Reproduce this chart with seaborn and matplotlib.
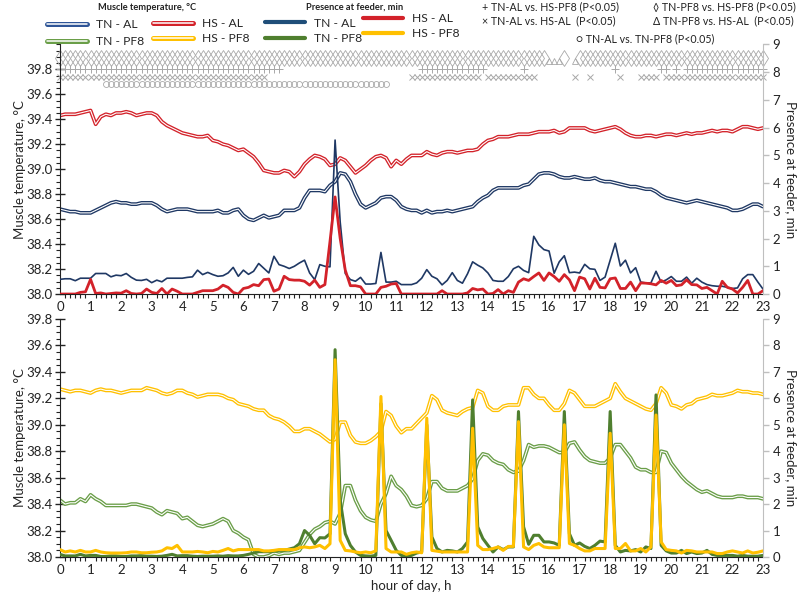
import matplotlib.pyplot as plt
import matplotlib.ticker as mtick
from matplotlib.lines import Line2D
import numpy as np
import seaborn as sns

sns.set_style("white")
plt.rcParams["font.family"] = ["Lato", "DejaVu Sans"]
plt.rcParams["font.size"] = 9

# 10-min readings, 0 h to 23 h (139 points per series)
hour = np.arange(139) / 6

# --- top panel: AL groups ---
temp_tn_al = [
    38.68, 38.67, 38.66, 38.66, 38.65, 38.65,
    38.65, 38.67, 38.69, 38.71, 38.73, 38.74,
    38.73, 38.73, 38.72, 38.72, 38.73, 38.73,
    38.73, 38.71, 38.68, 38.66, 38.67, 38.68,
    38.68, 38.68, 38.67, 38.66, 38.66, 38.66,
    38.66, 38.67, 38.65, 38.65, 38.67, 38.68,
    38.63, 38.60, 38.59, 38.61, 38.63, 38.61,
    38.62, 38.63, 38.67, 38.67, 38.67, 38.69,
    38.77, 38.83, 38.83, 38.83, 38.82, 38.87,
    38.90, 38.97, 38.96, 38.90, 38.80, 38.72,
    38.69, 38.71, 38.73, 38.77, 38.78, 38.78,
    38.75, 38.70, 38.68, 38.67, 38.67, 38.65,
    38.67, 38.65, 38.66, 38.66, 38.67, 38.66,
    38.67, 38.68, 38.69, 38.70, 38.74, 38.77,
    38.79, 38.83, 38.85, 38.85, 38.85, 38.85,
    38.85, 38.87, 38.88, 38.92, 38.96, 38.97,
    38.97, 38.96, 38.94, 38.93, 38.93, 38.94,
    38.93, 38.92, 38.92, 38.93, 38.91, 38.90,
    38.90, 38.89, 38.88, 38.87, 38.86, 38.86,
    38.85, 38.84, 38.84, 38.82, 38.79, 38.77,
    38.76, 38.75, 38.74, 38.73, 38.74, 38.75,
    38.74, 38.73, 38.72, 38.71, 38.70, 38.69,
    38.67, 38.67, 38.68, 38.70, 38.72, 38.72,
    38.70,
]
temp_hs_al = [
    39.43, 39.44, 39.44, 39.44, 39.45, 39.46,
    39.47, 39.36, 39.42, 39.44, 39.43, 39.45,
    39.45, 39.46, 39.45, 39.43, 39.44, 39.45,
    39.45, 39.43, 39.38, 39.35, 39.33, 39.31,
    39.29, 39.28, 39.27, 39.26, 39.26, 39.27,
    39.23, 39.22, 39.20, 39.19, 39.17, 39.15,
    39.16, 39.13, 39.10, 39.05, 38.99, 38.98,
    38.97, 38.97, 38.99, 38.98, 38.94, 38.98,
    39.04, 39.08, 39.11, 39.10, 39.08, 39.03,
    39.04, 39.09, 39.07, 39.02, 38.97, 39.00,
    39.03, 39.07, 39.10, 39.11, 39.09, 39.02,
    39.07, 39.04, 39.08, 39.11, 39.11, 39.11,
    39.14, 39.12, 39.11, 39.13, 39.14, 39.14,
    39.13, 39.14, 39.15, 39.15, 39.16, 39.20,
    39.23, 39.24, 39.26, 39.26, 39.26, 39.27,
    39.28, 39.28, 39.28, 39.29, 39.30, 39.30,
    39.30, 39.31, 39.29, 39.30, 39.33, 39.33,
    39.33, 39.33, 39.31, 39.30, 39.31, 39.32,
    39.33, 39.34, 39.32, 39.29, 39.27, 39.26,
    39.26, 39.27, 39.27, 39.26, 39.27, 39.28,
    39.28, 39.27, 39.28, 39.29, 39.28, 39.29,
    39.29, 39.30, 39.31, 39.30, 39.31, 39.31,
    39.30, 39.32, 39.34, 39.34, 39.33, 39.32,
    39.33,
]
feed_tn_al = [
    0.53, 0.55, 0.55, 0.48, 0.57, 0.57,
    0.57, 0.74, 0.74, 0.74, 0.62, 0.68,
    0.66, 0.74, 0.60, 0.50, 0.49, 0.53,
    0.41, 0.50, 0.44, 0.57, 0.57, 0.57,
    0.57, 0.60, 0.62, 0.86, 0.70, 0.78,
    0.70, 0.64, 0.66, 0.76, 0.96, 0.64,
    0.86, 0.71, 0.82, 1.10, 0.93, 0.76,
    1.36, 1.06, 1.00, 0.92, 1.00, 1.12,
    1.22, 0.76, 0.52, 1.06, 1.00, 0.98,
    5.55, 2.60, 0.74, 0.52, 0.46, 0.60,
    0.36, 0.36, 0.38, 1.50, 0.43, 0.43,
    0.46, 0.34, 0.34, 0.34, 0.40, 0.57,
    0.88, 0.64, 0.55, 0.33, 0.49, 0.77,
    0.49, 0.39, 0.73, 1.16, 1.04, 0.94,
    0.76, 0.49, 0.46, 0.46, 0.63, 0.91,
    1.00, 0.85, 0.77, 2.08, 1.77, 1.60,
    1.55, 0.75, 1.16, 1.38, 0.77, 0.79,
    0.76, 1.07, 0.91, 0.89, 0.49, 0.61,
    1.22, 1.83, 1.01, 1.22, 0.76, 0.95,
    0.43, 0.40, 0.40, 0.82, 0.43, 0.51,
    0.63, 0.46, 0.46, 0.61, 0.39, 0.57,
    0.43, 0.34, 0.30, 0.28, 0.28, 0.24,
    0.20, 0.22, 0.55, 0.70, 0.70, 0.43,
    0.18,
]
feed_hs_al = [
    0.00, 0.00, 0.00, 0.00, 0.06, 0.08,
    0.53, 0.02, 0.04, 0.00, 0.02, 0.04,
    0.03, 0.12, 0.02, 0.00, 0.02, 0.18,
    0.06, 0.02, 0.20, 0.00, 0.18, 0.10,
    0.00, 0.00, 0.00, 0.06, 0.12, 0.12,
    0.12, 0.18, 0.32, 0.24, 0.06, 0.00,
    0.20, 0.24, 0.34, 0.30, 0.52, 0.54,
    0.10, 0.18, 0.64, 0.52, 0.50, 0.50,
    0.46, 0.32, 0.50, 0.24, 0.34, 1.90,
    3.50, 2.00, 0.86, 0.30, 0.30, 0.26,
    0.00, 0.00, 0.00, 0.24, 0.28, 0.36,
    0.38, 0.00, 0.00, 0.00, 0.00, 0.00,
    0.00, 0.00, 0.00, 0.12, 0.00, 0.00,
    0.00, 0.00, 0.04, 0.20, 0.15, 0.18,
    0.00, 0.02, 0.16, 0.00, 0.12, 0.06,
    0.43, 0.55, 0.49, 0.63, 0.76, 0.49,
    0.76, 0.63, 0.46, 0.70, 0.51, 0.12,
    0.61, 0.55, 0.18, 0.57, 0.24, 0.22,
    0.55, 0.58, 0.20, 0.20, 0.43, 0.12,
    0.40, 0.39, 0.37, 0.33, 0.49, 0.39,
    0.49, 0.30, 0.33, 0.51, 0.34, 0.33,
    0.20, 0.24, 0.12, 0.00, 0.46, 0.24,
    0.18, 0.04, 0.24, 0.49, 0.00, 0.00,
    0.12,
]

# --- bottom panel: PF8 groups ---
temp_tn_pf8 = [
    38.43, 38.40, 38.41, 38.41, 38.44, 38.42,
    38.47, 38.44, 38.42, 38.39, 38.39, 38.39,
    38.39, 38.39, 38.40, 38.40, 38.39, 38.38,
    38.37, 38.34, 38.32, 38.35, 38.34, 38.33,
    38.29, 38.30, 38.27, 38.24, 38.23, 38.24,
    38.25, 38.27, 38.29, 38.27, 38.20, 38.18,
    38.15, 38.13, 38.02, 38.00, 38.00, 38.01,
    38.03, 38.02, 38.03, 38.03, 38.04, 38.05,
    38.11, 38.17, 38.21, 38.23, 38.26, 38.27,
    38.25, 38.33, 38.54, 38.54, 38.43, 38.35,
    38.30, 38.28, 38.27, 38.40, 38.48, 38.61,
    38.54, 38.51, 38.46, 38.39, 38.38, 38.39,
    38.44, 38.57, 38.57, 38.52, 38.50, 38.50,
    38.50, 38.52, 38.54, 38.59, 38.73, 38.78,
    38.77, 38.73, 38.71, 38.70, 38.66, 38.64,
    38.65, 38.73, 38.85, 38.83, 38.84, 38.84,
    38.83, 38.81, 38.79, 38.79, 38.86, 38.87,
    38.81, 38.76, 38.73, 38.72, 38.71, 38.71,
    38.75, 38.85, 38.85, 38.80, 38.75, 38.68,
    38.66, 38.66, 38.64, 38.64, 38.80, 38.79,
    38.71, 38.66, 38.61, 38.57, 38.54, 38.51,
    38.49, 38.50, 38.48, 38.46, 38.45, 38.45,
    38.45, 38.46, 38.46, 38.45, 38.45, 38.45,
    38.44,
]
temp_hs_pf8 = [
    39.27, 39.26, 39.25, 39.26, 39.26, 39.25,
    39.24, 39.26, 39.27, 39.26, 39.26, 39.25,
    39.24, 39.25, 39.26, 39.26, 39.26, 39.28,
    39.27, 39.26, 39.24, 39.23, 39.24, 39.26,
    39.26, 39.24, 39.23, 39.21, 39.22, 39.23,
    39.23, 39.23, 39.22, 39.20, 39.19, 39.16,
    39.15, 39.14, 39.12, 39.11, 39.11, 39.07,
    39.05, 39.04, 39.02, 38.99, 38.95, 38.95,
    38.97, 38.97, 38.95, 38.93, 38.90, 38.87,
    38.89, 39.02, 39.02, 38.92, 38.87, 38.86,
    38.86, 38.88, 38.91, 38.95, 39.10, 39.07,
    38.99, 38.94, 38.97, 38.97, 39.01, 39.05,
    39.09, 39.22, 39.19, 39.11, 39.09, 39.08,
    39.07, 39.10, 39.12, 39.13, 39.26, 39.24,
    39.14, 39.11, 39.11, 39.14, 39.15, 39.15,
    39.15, 39.28, 39.28, 39.23, 39.20, 39.20,
    39.15, 39.11, 39.11, 39.16, 39.26, 39.24,
    39.19, 39.14, 39.14, 39.14, 39.16, 39.18,
    39.20, 39.31, 39.25, 39.20, 39.18, 39.16,
    39.14, 39.12, 39.11, 39.16, 39.28, 39.24,
    39.15, 39.14, 39.12, 39.15, 39.16, 39.19,
    39.20, 39.21, 39.23, 39.22, 39.22, 39.23,
    39.24, 39.26, 39.25, 39.25, 39.24, 39.24,
    39.23,
]
feed_tn_pf8 = [
    0.10, 0.04, 0.04, 0.04, 0.10, 0.04,
    0.06, 0.06, 0.02, 0.02, 0.04, 0.04,
    0.02, 0.02, 0.04, 0.04, 0.05, 0.03,
    0.03, 0.02, 0.03, 0.06, 0.10, 0.04,
    0.05, 0.05, 0.03, 0.02, 0.03, 0.03,
    0.03, 0.04, 0.03, 0.05, 0.04, 0.04,
    0.06, 0.10, 0.15, 0.20, 0.20, 0.20,
    0.22, 0.25, 0.25, 0.30, 0.35, 0.50,
    1.00, 0.82, 0.50, 0.73, 0.72, 0.88,
    7.84, 2.15, 0.88, 0.44, 0.19, 0.06,
    0.04, 0.03, 0.06, 5.80, 1.00, 0.63,
    0.25, 0.06, 0.03, 0.06, 0.15, 0.19,
    5.00, 0.76, 0.32, 0.19, 0.25, 0.23,
    0.19, 0.32, 0.57, 5.94, 1.14, 0.70,
    0.44, 0.19, 0.38, 0.28, 0.38, 0.38,
    5.50, 1.14, 0.48, 0.82, 0.82, 0.57,
    0.57, 0.53, 0.44, 5.50, 0.88, 0.44,
    0.53, 0.40, 0.32, 0.44, 0.60, 0.57,
    5.50, 0.44, 0.19, 0.25, 0.23, 0.28,
    0.19, 0.38, 0.32, 6.13, 0.44, 0.23,
    0.15, 0.15, 0.25, 0.13, 0.19, 0.13,
    0.15, 0.25, 0.10, 0.06, 0.06, 0.06,
    0.06, 0.03, 0.06, 0.03, 0.03, 0.03,
    0.06,
]
feed_hs_pf8 = [
    0.28, 0.19, 0.23, 0.19, 0.25, 0.19,
    0.19, 0.25, 0.19, 0.16, 0.15, 0.15,
    0.15, 0.16, 0.19, 0.19, 0.16, 0.16,
    0.18, 0.19, 0.23, 0.35, 0.32, 0.44,
    0.19, 0.19, 0.19, 0.21, 0.19, 0.16,
    0.21, 0.19, 0.25, 0.32, 0.23, 0.28,
    0.28, 0.28, 0.28, 0.28, 0.23, 0.23,
    0.25, 0.28, 0.28, 0.28, 0.28, 0.35,
    0.38, 0.35, 0.38, 0.44, 0.32, 0.50,
    7.46, 0.63, 0.25, 0.23, 0.19, 0.16,
    0.19, 0.16, 0.23, 6.07, 0.32, 0.19,
    0.19, 0.19, 0.10, 0.16, 0.19, 0.16,
    5.25, 0.25, 0.22, 0.19, 0.19, 0.19,
    0.19, 0.19, 0.19, 4.87, 0.44, 0.28,
    0.28, 0.32, 0.38, 0.25, 0.40, 0.40,
    5.12, 0.38, 0.28, 0.44, 0.51, 0.38,
    0.35, 0.35, 0.35, 5.00, 0.51, 0.44,
    0.32, 0.23, 0.23, 0.32, 0.32, 0.32,
    4.68, 0.32, 0.32, 0.51, 0.23, 0.23,
    0.32, 0.19, 0.38, 5.37, 0.57, 0.28,
    0.25, 0.23, 0.15, 0.25, 0.23, 0.19,
    0.19, 0.19, 0.19, 0.13, 0.13, 0.19,
    0.23, 0.19, 0.15, 0.23, 0.15, 0.18,
    0.23,
]

# periods (h) with P<0.05 for each pairwise comparison
sig_diamond = [(0, 15.83), (16.5, 16.5), (17.0, 23.0)]      # TN-PF8 vs HS-PF8
sig_delta = [(16.0, 16.33), (16.83, 16.83)]                  # TN-PF8 vs HS-AL
sig_plus = [(0, 7.17), (11.83, 13.83), (15.17, 15.17), (18.17, 18.17),
            (19.67, 19.83), (20.17, 20.17), (20.5, 23.0)]    # TN-AL vs HS-PF8
sig_cross = [(0, 6.67), (11.5, 13.67), (14.0, 15.5), (16.83, 16.83),
             (17.33, 17.33), (18.33, 18.33), (19.0, 19.5), (19.83, 23.0)]  # TN-AL vs HS-AL
sig_circle = [(1.5, 10.67)]                                  # TN-AL vs TN-PF8

C_NAVY = "#1F3864"
C_RED = "#D3222A"
C_GREEN_T = "#6A9E48"
C_GREEN = "#4F7F2F"
C_YELLOW = "#FFC000"
C_SIG = "#A8A8A8"


def double_line(ax, y, color):
    sns.lineplot(x=hour, y=y, ax=ax, color=color, lw=2.7, legend=False)
    sns.lineplot(x=hour, y=y, ax=ax, color="white", lw=0.8, legend=False)


def sig_points(segments):
    mask = np.zeros(len(hour), dtype=bool)
    for a, b in segments:
        mask |= (hour >= a - 0.01) & (hour <= b + 0.01)
    return hour[mask]


def style_axes(ax, axr, ymax_l):
    ax.set_xlim(0, 23)
    ax.set_ylim(38.0, ymax_l)
    axr.set_ylim(0, 9)
    ax.set_yticks(np.arange(38.0, 39.81, 0.2))
    ax.yaxis.set_major_formatter(mtick.StrMethodFormatter("{x:.1f}"))
    ax.yaxis.set_minor_locator(mtick.MultipleLocator(0.05))
    ax.set_xticks(range(24))
    ax.xaxis.set_minor_locator(mtick.MultipleLocator(1 / 6))
    ax.tick_params(axis="x", which="major", direction="inout", length=6, width=1, colors="#222222", labelsize=9.5, pad=2)
    ax.tick_params(axis="x", which="minor", direction="out", length=3, width=0.8, colors="#222222", bottom=True)
    ax.tick_params(axis="y", which="major", direction="inout", length=7, width=1, colors="#222222", labelsize=9.5, pad=2)
    ax.tick_params(axis="y", which="minor", direction="out", length=3, width=0.8, colors="#222222", left=True)
    axr.set_yticks(range(10))
    axr.tick_params(axis="y", direction="out", length=4, width=1, colors="#BFBFBF", labelcolor="#222222", labelsize=9.5, pad=3)
    for a in (ax, axr):
        a.spines["top"].set_visible(False)
    ax.spines["right"].set_visible(False)
    ax.spines["left"].set_color("#222222")
    ax.spines["bottom"].set_color("#222222")
    axr.spines["right"].set_color("#BFBFBF")
    axr.spines["left"].set_visible(False)
    axr.spines["bottom"].set_visible(False)
    ax.set_ylabel("Muscle temperature, °C", fontsize=9.5, labelpad=0)
    axr.set_ylabel("Presence at feeder, min", fontsize=9.5, rotation=270, labelpad=12)


fig = plt.figure(figsize=(8, 6.08), dpi=100)
ax1 = fig.add_axes([0.075, 0.5164, 0.87875, 0.4107])
ax1r = ax1.twinx()
ax2 = fig.add_axes([0.075, 0.0839, 0.87875, 0.3914])
ax2r = ax2.twinx()

# top panel
double_line(ax1, temp_tn_al, C_NAVY)
double_line(ax1, temp_hs_al, C_RED)
sns.lineplot(x=hour, y=feed_tn_al, ax=ax1r, color=C_NAVY, lw=1.2, legend=False)
sns.lineplot(x=hour, y=feed_hs_al, ax=ax1r, color=C_RED, lw=2.0, legend=False)

rows = [
    (sig_diamond, 39.89, "d", 8, 0.6),
    (sig_delta, 39.865, "^", 5, 0.6),
    (sig_plus, 39.80, "+", 6, 0.7),
    (sig_cross, 39.735, "x", 4.5, 0.7),
    (sig_circle, 39.685, "o", 4.3, 0.6),
]
for segs, ypos, mk, ms, mw in rows:
    xs = sig_points(segs)
    ax1.plot(xs, np.full(len(xs), ypos), ls="none", marker=mk, ms=ms,
             mfc="none", mec=C_SIG, mew=mw, clip_on=False)

style_axes(ax1, ax1r, 40.0)

# bottom panel
double_line(ax2, temp_tn_pf8, C_GREEN_T)
double_line(ax2, temp_hs_pf8, C_YELLOW)
sns.lineplot(x=hour, y=feed_tn_pf8, ax=ax2r, color=C_GREEN, lw=2.2, legend=False)
sns.lineplot(x=hour, y=feed_hs_pf8, ax=ax2r, color=C_YELLOW, lw=2.2, legend=False)
style_axes(ax2, ax2r, 39.8)
ax2.set_xlabel("hour of day, h", fontsize=9.5, labelpad=3)

# legends: one single-column legend per legend column, titles as bold texts
leg_kw = dict(loc="upper left", frameon=False, fontsize=8.7,
              handlelength=3.3, handletextpad=0.75, labelspacing=0.45,
              borderaxespad=0, borderpad=0)


def double_handle(c):
    return (Line2D([], [], color=c, lw=3.6), Line2D([], [], color="white", lw=1.1))


fig.legend([double_handle("#2F5597"), double_handle(C_GREEN_T)], ["TN - AL", "TN - PF8"],
           bbox_to_anchor=(0.059, 0.968), **leg_kw)
fig.legend([double_handle(C_RED), double_handle(C_YELLOW)], ["HS - AL", "HS - PF8"],
           bbox_to_anchor=(0.191, 0.970), **{**leg_kw, "labelspacing": 0.3})
fig.legend([Line2D([], [], color=c, lw=3) for c in ("#1F4E79", C_GREEN)], ["TN - AL", "TN - PF8"],
           bbox_to_anchor=(0.331, 0.971), **{**leg_kw, "labelspacing": 0.35})
fig.legend([Line2D([], [], color=c, lw=3) for c in (C_RED, C_YELLOW)], ["HS - AL", "HS - PF8"],
           bbox_to_anchor=(0.454, 0.979), **{**leg_kw, "labelspacing": 0.35})

title_kw = dict(fontsize=6.7, fontweight="bold", color="#222222", ha="center", va="center")
fig.text(0.184, 0.988, "Muscle temperature, °C", **title_kw)
fig.text(0.443, 0.988, "Presence at feeder, min", **title_kw)

note_kw = dict(fontsize=7.7, color="#222222", va="center", ha="left")
fig.text(0.6025, 0.988, "+ TN-AL vs. HS-PF8 (P<0.05)", **note_kw)
fig.text(0.6025, 0.965, "× TN-AL vs. HS-AL  (P<0.05)", **note_kw)
fig.text(0.816, 0.988, "◊ TN-PF8 vs. HS-PF8 (P<0.05)", **note_kw)
fig.text(0.816, 0.965, "Δ TN-PF8 vs. HS-AL  (P<0.05)", **note_kw)
fig.text(0.72, 0.937, "○ TN-AL vs. TN-PF8 (P<0.05)", **note_kw)

fig.savefig("out.png", dpi=100, facecolor="white")
